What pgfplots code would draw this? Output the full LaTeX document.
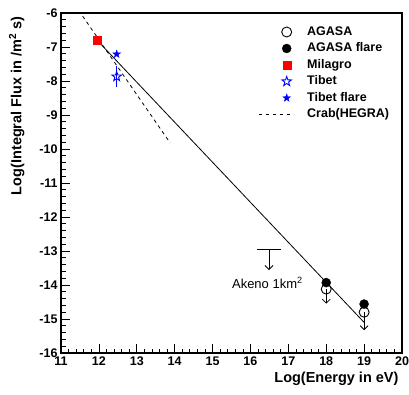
\documentclass[border=0pt]{standalone}
\usepackage{fontspec}
\setmainfont{Liberation Sans}
\usepackage{pgfplots}
\pgfplotsset{compat=1.18}
\usetikzlibrary{arrows.meta}
\pgfdeclareplotmark{ostar}{%
 \pgfpathmoveto{\pgfpointpolar{90}{\pgfplotmarksize}}%
 \pgfpathlineto{\pgfpointpolar{126}{0.4\pgfplotmarksize}}%
 \pgfpathlineto{\pgfpointpolar{162}{\pgfplotmarksize}}%
 \pgfpathlineto{\pgfpointpolar{198}{0.4\pgfplotmarksize}}%
 \pgfpathlineto{\pgfpointpolar{234}{\pgfplotmarksize}}%
 \pgfpathlineto{\pgfpointpolar{270}{0.4\pgfplotmarksize}}%
 \pgfpathlineto{\pgfpointpolar{306}{\pgfplotmarksize}}%
 \pgfpathlineto{\pgfpointpolar{342}{0.4\pgfplotmarksize}}%
 \pgfpathlineto{\pgfpointpolar{18}{\pgfplotmarksize}}%
 \pgfpathlineto{\pgfpointpolar{54}{0.4\pgfplotmarksize}}%
 \pgfpathclose\pgfusepathqstroke}
\pgfdeclareplotmark{fstar}{%
 \pgfpathmoveto{\pgfpointpolar{90}{\pgfplotmarksize}}%
 \pgfpathlineto{\pgfpointpolar{126}{0.4\pgfplotmarksize}}%
 \pgfpathlineto{\pgfpointpolar{162}{\pgfplotmarksize}}%
 \pgfpathlineto{\pgfpointpolar{198}{0.4\pgfplotmarksize}}%
 \pgfpathlineto{\pgfpointpolar{234}{\pgfplotmarksize}}%
 \pgfpathlineto{\pgfpointpolar{270}{0.4\pgfplotmarksize}}%
 \pgfpathlineto{\pgfpointpolar{306}{\pgfplotmarksize}}%
 \pgfpathlineto{\pgfpointpolar{342}{0.4\pgfplotmarksize}}%
 \pgfpathlineto{\pgfpointpolar{18}{\pgfplotmarksize}}%
 \pgfpathlineto{\pgfpointpolar{54}{0.4\pgfplotmarksize}}%
 \pgfpathclose\pgfusepathqfillstroke}
\pgfplotsset{
 markleg/.style={legend image code/.code={\path[draw=none,fill=none] (0pt,0pt) -- (31pt,0pt); \draw[##1, only marks] plot coordinates {(28pt,0pt)};}},
 lineleg/.style={legend image code/.code={\draw[##1] (0pt,0pt) -- (31pt,0pt);}}
}
\begin{document}
\begin{tikzpicture}
\begin{axis}[name=ax, width=341pt, height=340pt, scale only axis,
 xmin=11, xmax=20, ymin=-16, ymax=-6,
 xtick={11,12,...,20}, ytick={-16,-15,...,-6},
 minor x tick num=4, minor y tick num=4,
 tick pos=left, tick align=inside,
 major tick length=9pt, minor tick length=4.5pt,
 axis line style={line width=1.1pt},
 every tick/.style={black, line width=0.7pt},
 tick label style={font=\fontsize{12.5}{14}\selectfont\bfseries},
 /pgf/number format/assume math mode=true,
 xlabel={Log(Energy in eV)},
 ylabel={Log(Integral Flux in /m\textsuperscript{2} s)},
 label style={font=\fontsize{14.5}{16}\selectfont\bfseries},
 xlabel style={at={(ticklabel cs:1)}, anchor=north east},
 ylabel style={at={(ticklabel cs:1,8pt)}, anchor=south east},
 legend cell align=left,
 legend style={draw=none, fill=none, at={(rel axis cs:0.578,0.969)}, anchor=north west,
   inner sep=0pt, column sep=13pt, row sep=0pt,
   font=\fontsize{12.5}{14}\selectfont\bfseries,
   nodes={text height=9pt, text depth=2.5pt, inner sep=2.5pt}},
]
% power-law line through Milagro and AGASA flare
\addplot[black, line width=0.8pt, forget plot] coordinates {(11.96,-6.81) (19,-15.1)};

\addplot[black, only marks, mark=o, mark size=5pt, line width=0.9pt, markleg]
  coordinates {(18,-14.12) (19,-14.80)};
\addlegendentry{AGASA}
\addplot[black, only marks, mark=*, mark size=4.5pt, markleg]
  coordinates {(18,-13.93) (19,-14.56)};
\addlegendentry{AGASA flare}
\addplot[red, only marks, mark=square*, mark size=4pt, markleg]
  coordinates {(11.96,-6.81)};
\addlegendentry{Milagro}
\addplot[blue, only marks, mark=ostar, mark size=5pt, line width=0.9pt, markleg,
  error bars/.cd, y dir=both, y explicit, error mark=none,
  error bar style={line width=0.9pt}]
  coordinates {(12.47,-7.87) +- (0,0.31)};
\addlegendentry{Tibet}
\addplot[blue, only marks, mark=fstar, mark size=4pt, markleg]
  coordinates {(12.47,-7.21)};
\addlegendentry{Tibet flare}
\addplot[black, line width=0.8pt, dash pattern=on 3.5pt off 3.5pt, lineleg]
  coordinates {(11.57,-6.09) (13.88,-9.82)};
\addlegendentry{Crab(HEGRA)}

% upper-limit arrows
\addplot[black, line width=0.8pt, -{Straight Barb[length=4pt,width=8pt]}, forget plot]
  coordinates {(18,-14.12) (18,-14.55)};
\addplot[black, line width=0.8pt, -{Straight Barb[length=4pt,width=8pt]}, forget plot]
  coordinates {(19,-14.80) (19,-15.33)};
% Akeno limit
\addplot[black, line width=0.8pt, forget plot] coordinates {(16.17,-12.94) (16.80,-12.94)};
\addplot[black, line width=0.8pt, -{Straight Barb[length=4pt,width=8pt]}, forget plot]
  coordinates {(16.49,-12.94) (16.49,-13.56)};
\node[anchor=west, inner sep=0pt, font=\fontsize{13}{15}\selectfont] at (axis cs:15.51,-13.94) {Akeno 1km\textsuperscript{2}};
\end{axis}
\pgfresetboundingbox
\path ([shift={(-61pt,-41pt)}]ax.south west) rectangle ([shift={(7pt,13pt)}]ax.north east);
\end{tikzpicture}
\end{document}
